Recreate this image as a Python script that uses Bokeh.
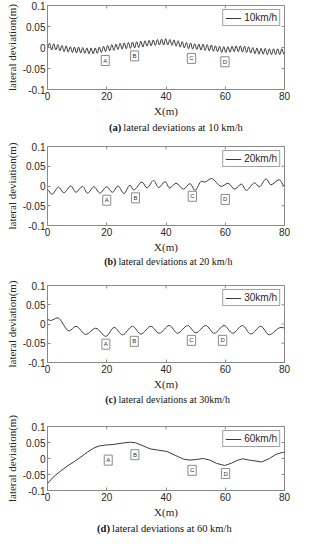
import math
from bokeh.plotting import figure
from bokeh.models import (Range1d, FixedTicker, Label, Legend,
                          LegendItem, ColumnDataSource)
from bokeh.layouts import column
from bokeh.embed import file_html
from bokeh.resources import INLINE

# ---------------- data ----------------
x_limits = [0, 80]
y_limits = [-0.1, 0.1]
x_ticks = [0, 20, 40, 60, 80]
x_tick_labels = ["0", "20", "40", "60", "80"]
y_ticks = [-0.1, -0.05, 0, 0.05, 0.1]
y_tick_labels = ["-0.1", "-0.05", "0", "0.05", "0.1"]

# 10 km/h : local peaks / troughs of the lateral deviation
dist_10 = [0.0, 0.7, 1.4, 2.1, 2.8, 3.5, 4.2, 4.9, 5.6, 6.3,
           7.0, 7.7, 8.4, 9.1, 9.8, 10.5, 11.2, 11.9, 12.6, 13.3,
           14.0, 14.7, 15.4, 16.1, 16.8, 17.5, 18.2, 18.9, 19.6, 20.3,
           21.0, 21.7, 22.4, 23.1, 23.8, 24.5, 25.2, 25.9, 26.6, 27.3,
           28.0, 28.7, 29.4, 30.1, 30.8, 31.5, 32.2, 32.9, 33.6, 34.3,
           35.0, 35.7, 36.4, 37.1, 37.8, 38.5, 39.2, 39.9, 40.6, 41.3,
           42.0, 42.7, 43.4, 44.1, 44.8, 45.5, 46.2, 46.9, 47.6, 48.3,
           49.0, 49.7, 50.4, 51.1, 51.8, 52.5, 53.2, 53.9, 54.6, 55.3,
           56.0, 56.7, 57.4, 58.1, 58.8, 59.5, 60.2, 60.9, 61.6, 62.3,
           63.0, 63.7, 64.4, 65.1, 65.8, 66.5, 67.2, 67.9, 68.6, 69.3,
           70.0, 70.7, 71.4, 72.1, 72.8, 73.5, 74.2, 74.9, 75.6, 76.3,
           77.0, 77.7, 78.4, 79.1, 79.8, 80.0]
dev_10 = [0.000, 0.010, -0.006, 0.009, -0.006, 0.007, -0.008, 0.005, -0.010, 0.004,
          -0.011, 0.002, -0.012, 0.001, -0.013, 0.001, -0.013, 0.000, -0.014, -0.001,
          -0.015, -0.001, -0.015, -0.001, -0.014, 0.001, -0.012, 0.003, -0.010, 0.005,
          -0.008, 0.007, -0.007, 0.008, -0.005, 0.010, -0.004, 0.011, -0.003, 0.012,
          -0.002, 0.013, -0.001, 0.014, 0.000, 0.015, 0.001, 0.016, 0.003, 0.017,
          0.004, 0.018, 0.005, 0.019, 0.006, 0.020, 0.006, 0.021, 0.006, 0.019,
          0.005, 0.018, 0.003, 0.016, 0.001, 0.014, -0.001, 0.012, -0.003, 0.011,
          -0.004, 0.009, -0.005, 0.008, -0.006, 0.008, -0.007, 0.007, -0.008, 0.006,
          -0.009, 0.004, -0.010, 0.003, -0.012, 0.002, -0.012, 0.002, -0.011, 0.003,
          -0.010, 0.004, -0.010, 0.004, -0.011, 0.003, -0.012, 0.002, -0.013, 0.000,
          -0.015, -0.001, -0.016, -0.002, -0.016, -0.002, -0.017, -0.003, -0.017, -0.003,
          -0.017, -0.003, -0.017, -0.003, -0.016, -0.012]

# 20 km/h
dist_20 = [0.0, 1.5, 3.7, 5.5, 7.9, 9.6, 11.8, 13.5, 15.7, 17.7,
           20.0, 21.9, 23.8, 25.8, 27.8, 29.1, 31.9, 33.6, 35.8, 37.5,
           39.7, 41.2, 43.4, 45.9, 48.1, 49.8, 52.0, 53.1, 55.3, 58.7,
           60.9, 63.2, 65.4, 67.1, 69.9, 71.5, 73.8, 75.4, 78.2, 80.0]
dev_20 = [-0.010, -0.021, -0.003, -0.017, 0.000, -0.016, -0.001, -0.018, -0.002, -0.018,
          -0.002, -0.016, 0.000, -0.019, 0.002, -0.010, 0.010, -0.005, 0.014, -0.004,
          0.011, -0.005, 0.007, -0.008, 0.006, -0.011, 0.012, 0.010, 0.019, -0.001,
          0.007, -0.008, 0.005, -0.011, 0.008, -0.002, 0.018, 0.003, 0.016, 0.000]

# 30 km/h
dist_30 = [0.0, 1.0, 3.4, 7.3, 9.6, 12.9, 16.3, 19.7, 22.5, 25.3,
           28.7, 31.5, 34.9, 37.7, 41.1, 43.9, 47.3, 50.1, 53.4, 56.3,
           59.6, 62.5, 65.8, 68.6, 72.0, 74.8, 78.8, 80.0]
dev_30 = [0.012, 0.009, 0.016, -0.018, -0.006, -0.027, -0.011, -0.032, -0.009, -0.028,
          -0.006, -0.026, -0.006, -0.024, -0.004, -0.024, -0.004, -0.023, -0.004, -0.024,
          -0.004, -0.024, -0.004, -0.026, -0.006, -0.028, -0.009, -0.010]

# 60 km/h
dist_60 = [0.0, 2.3, 4.6, 6.8, 9.0, 11.3, 13.5, 15.7, 17.4, 19.6,
           22.4, 25.2, 28.0, 29.7, 31.9, 34.7, 37.5, 40.3, 43.1, 45.9,
           48.1, 50.3, 52.6, 54.8, 57.0, 59.8, 62.0, 64.3, 65.9, 68.2,
           70.4, 72.2, 74.9, 77.1, 79.3, 80.0]
dev_60 = [-0.078, -0.055, -0.038, -0.023, -0.010, 0.005, 0.020, 0.033, 0.039, 0.042,
          0.044, 0.048, 0.051, 0.049, 0.041, 0.030, 0.026, 0.022, 0.010, -0.002,
          -0.005, -0.003, 0.000, -0.005, -0.015, -0.022, -0.015, -0.005, -0.001, -0.005,
          -0.008, -0.011, 0.000, 0.013, 0.019, 0.019]

# position markers A-D (data coordinates)
marker_text = ["A", "B", "C", "D"]
mark_x_10 = [19.5, 29.4, 48.6, 59.9]
mark_y_10 = [-0.031, -0.020, -0.026, -0.034]
mark_x_20 = [20.0, 29.7, 48.9, 60.0]
mark_y_20 = [-0.036, -0.030, -0.026, -0.034]
mark_x_30 = [19.7, 29.3, 48.6, 59.1]
mark_y_30 = [-0.0525, -0.045, -0.0425, -0.0425]
mark_x_60 = [20.5, 29.5, 48.8, 60.1]
mark_y_60 = [-0.005, 0.012, -0.037, -0.047]

series_names = ["10km/h", "20km/h", "30km/h", "60km/h"]
caption_tags = ["(a)", "(b)", "(c)", "(d)"]
caption_texts = ["lateral deviations at 10 km/h", "lateral deviations at 20 km/h",
                 "lateral deviations at 30km/h", "lateral deviations at 60 km/h"]

# ---------------- styling ----------------
SANS = "Liberation Sans"
SERIF = "Liberation Serif"
LINE_COLOR = "#3a3a3a"
FRAME_COLOR = "#8a8a8a"
TEXT_COLOR = "#262626"
PAGE_W = 296


def bezier_source(xs, ys):
    x0, x1 = xs[:-1], xs[1:]
    y0, y1 = ys[:-1], ys[1:]
    cx0 = [a + (b - a) / 3.0 for a, b in zip(x0, x1)]
    cx1 = [b - (b - a) / 3.0 for a, b in zip(x0, x1)]
    return ColumnDataSource(dict(x0=x0, y0=y0, x1=x1, y1=y1,
                                 cx0=cx0, cy0=y0, cx1=cx1, cy1=y1))


def make_panel(xs, ys, smooth, name, mx, my, lay):
    p = figure(width=PAGE_W, height=lay["h"],
               x_range=Range1d(*x_limits), y_range=Range1d(*y_limits),
               output_backend="svg", toolbar_location=None,
               min_border_left=lay["l"], min_border_right=lay["r"],
               min_border_top=lay["t"], min_border_bottom=lay["b"])
    p.xgrid.visible = False
    p.ygrid.visible = False
    p.outline_line_color = FRAME_COLOR
    p.outline_line_width = 1
    p.background_fill_color = "white"
    p.border_fill_color = "white"

    xa = p.xaxis[0]
    ya = p.yaxis[0]
    xa.ticker = FixedTicker(ticks=x_ticks)
    ya.ticker = FixedTicker(ticks=y_ticks)
    xa.major_label_overrides = dict(zip(x_ticks, x_tick_labels))
    ya.major_label_overrides = dict(zip(y_ticks, y_tick_labels))
    for ax in (xa, ya):
        ax.axis_line_color = None
        ax.major_tick_in = 3
        ax.major_tick_out = 0
        ax.minor_tick_in = 0
        ax.minor_tick_out = 0
        ax.major_tick_line_color = FRAME_COLOR
        ax.major_label_text_font = SANS
        ax.major_label_text_font_size = "10px"
        ax.major_label_text_color = TEXT_COLOR
        ax.major_label_standoff = 2
        ax.axis_label_text_font = SERIF
        ax.axis_label_text_font_style = "normal"
        ax.axis_label_text_font_size = "11px"
        ax.axis_label_text_color = TEXT_COLOR
        ax.axis_label_standoff = 2
    xa.axis_label = "X(m)"
    ya.axis_label = "lateral deviation(m)"

    # box ticks on the right and top sides (dash markers clipped by the frame)
    p.scatter(x=[x_limits[1]] * len(y_ticks), y=y_ticks, marker="dash", size=6,
              line_color=FRAME_COLOR, line_width=1)
    p.scatter(x=x_ticks, y=[y_limits[1]] * len(x_ticks), marker="dash", size=6,
              angle=math.pi / 2, line_color=FRAME_COLOR, line_width=1)

    if smooth:
        r = p.bezier(x0="x0", y0="y0", x1="x1", y1="y1", cx0="cx0", cy0="cy0",
                     cx1="cx1", cy1="cy1", source=bezier_source(xs, ys),
                     line_color=LINE_COLOR, line_width=1)
    else:
        r = p.line(xs, ys, line_color=LINE_COLOR, line_width=1)

    legend = Legend(items=[LegendItem(label=name, renderers=[r])],
                    location="top_right", margin=4, padding=2, spacing=0,
                    glyph_width=16, glyph_height=8, label_height=8,
                    label_standoff=3, label_text_font=SANS,
                    label_text_font_size="10px", label_text_color=TEXT_COLOR,
                    border_line_color="#444444", border_line_width=1,
                    background_fill_color="white", background_fill_alpha=1)
    p.add_layout(legend)

    for t, x, y in zip(marker_text, mx, my):
        p.add_layout(Label(x=x, y=y, text=t, text_font=SANS, text_font_size="6px",
                           text_color="#333333", text_align="center",
                           text_baseline="middle", border_line_color="#8a8a8a",
                           border_line_width=1, background_fill_color="white",
                           padding=2))
    return p


def make_caption(tag, text, split_x, size):
    c = figure(width=PAGE_W, height=12, x_range=Range1d(0, PAGE_W), y_range=Range1d(0, 12),
               output_backend="svg", toolbar_location=None, min_border=0,
               x_axis_location=None, y_axis_location=None)
    c.xgrid.visible = False
    c.ygrid.visible = False
    c.outline_line_color = None
    c.add_layout(Label(x=split_x, y=6, text=tag, text_font=SERIF, text_font_style="bold",
                       text_font_size=size, text_color="#111111",
                       text_align="right", text_baseline="middle"))
    c.add_layout(Label(x=split_x + 2.7, y=6, text=text, text_font=SERIF,
                       text_font_style="normal", text_font_size=size, text_color="#111111",
                       text_align="left", text_baseline="middle"))
    return c


layouts = [
    dict(h=121, t=5, b=32, l=40, r=1, cx=92, cf="10.5px"),
    dict(h=122, t=13, b=30, l=45, r=11, cx=86, cf="10px"),
    dict(h=126, t=18, b=31, l=47, r=12, cx=86, cf="10px"),
    dict(h=117, t=21, b=32, l=45, r=12, cx=78, cf="10.5px"),
]

series = [(dist_10, dev_10, True, mark_x_10, mark_y_10),
          (dist_20, dev_20, True, mark_x_20, mark_y_20),
          (dist_30, dev_30, True, mark_x_30, mark_y_30),
          (dist_60, dev_60, False, mark_x_60, mark_y_60)]

children = []
for i, (xs, ys, smooth, mx, my) in enumerate(series):
    lay = layouts[i]
    children.append(make_panel(xs, ys, smooth, series_names[i], mx, my, lay))
    children.append(make_caption(caption_tags[i], caption_texts[i], lay["cx"], lay["cf"]))

page = column(*children, spacing=0)
open("out.html", "w").write(file_html(page, INLINE))
